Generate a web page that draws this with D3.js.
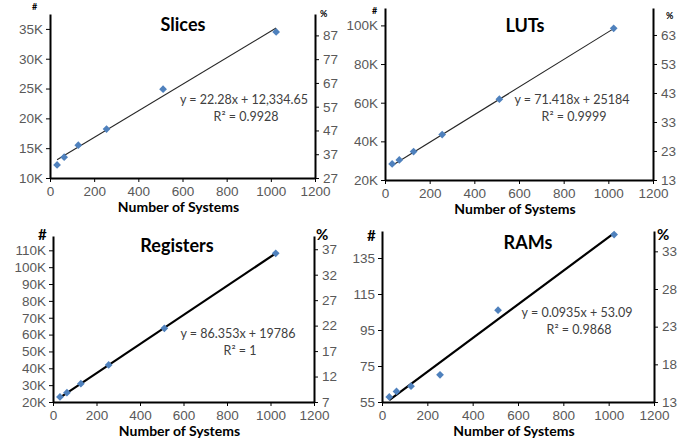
<!DOCTYPE html>
<meta charset="utf-8">
<script src="https://d3js.org/d3.v7.min.js"></script>
<style>
body { margin: 0; background: #fff; }
svg { font-family: Lato, "Open Sans", sans-serif; }
.tick text { fill: #595959; font-size: 13.5px; }
.axis path, .axis line { stroke: #000; }
.eq { fill: #404040; font-size: 12.5px; text-anchor: middle; }
.ttl { font-weight: bold; font-size: 18px; text-anchor: middle; }
.xlab { font-weight: bold; font-size: 14px; text-anchor: middle; }
.unit { font-weight: bold; }
</style>
<div id="chart"></div>
<script>
// number of systems (shared x values)
var systems = [32, 64, 128, 256, 512, 1024];
var xTicks = [0, 200, 400, 600, 800, 1000, 1200];

// measured resource counts
var slices = [12200, 13500, 15500, 18200, 24900, 34500];
var luts = [28300, 30400, 34700, 43500, 61800, 98500];
var registers = [23000, 25500, 30900, 42000, 63700, 108200];
var rams = [57.8, 60.9, 63.8, 70.1, 106, 148];

// left (#) and right (%) tick labels
var slicesTicks = [10000, 15000, 20000, 25000, 30000, 35000];
var slicesPct = [27, 37, 47, 57, 67, 77, 87];
var lutsTicks = [20000, 40000, 60000, 80000, 100000];
var lutsPct = [13, 23, 33, 43, 53, 63];
var regTicks = [20000, 30000, 40000, 50000, 60000, 70000, 80000, 90000, 100000, 110000];
var regPct = [7, 12, 17, 22, 27, 32, 37];
var ramTicks = [55, 75, 95, 115, 135];
var ramPct = [13, 18, 23, 28, 33];

// trend lines (slope, intercept, label, R²) as printed
var slicesFit = [22.28, 12334.65, "y = 22.28x + 12,334.65", "0.9928"];
var lutsFit = [71.418, 25184, "y = 71.418x + 25184", "0.9999"];
var regFit = [86.353, 19786, "y = 86.353x + 19786", "1"];
var ramFit = [0.0935, 53.09, "y = 0.0935x + 53.09", "0.9868"];

var panels = [
  {title: "Slices", vals: slices, lt: slicesTicks, rt: slicesPct, fit: slicesFit, k: true,
   l: 50, r: 315, t: 14, b: 178, yd: [10000, 37500], rd: [27, 96], lw: 1, us: 9,
   tx: 183, ty: 31, ex: 244, ey: 104, hx: 32, hy: 10, px: 320, py: 17},
  {title: "LUTs", vals: luts, lt: lutsTicks, rt: lutsPct, fit: lutsFit, k: true,
   l: 385, r: 653, t: 8, b: 180, yd: [20000, 109000], rd: [13, 72.3], lw: 1, us: 9,
   tx: 525, ty: 32, ex: 572, ey: 104, hx: 372, hy: 14, px: 666, py: 19},
  {title: "Registers", vals: registers, lt: regTicks, rt: regPct, fit: regFit, k: true,
   l: 53, r: 314, t: 236, b: 402, yd: [20000, 118500], rd: [7, 39.6], lw: 2, us: 15,
   tx: 177, ty: 252, ex: 238, ey: 338, hx: 38, hy: 240, px: 316, py: 240},
  {title: "RAMs", vals: rams, lt: ramTicks, rt: ramPct, fit: ramFit, k: false,
   l: 382, r: 654, t: 231, b: 402, yd: [55, 150], rd: [13, 35.7], lw: 2, us: 15,
   tx: 528, ty: 249, ex: 577, ey: 317, hx: 367, hy: 241, px: 657, py: 240}
];

var svg = d3.select("#chart").append("svg").attr("width", 700).attr("height", 442);
var diamond = d3.symbol().type(d3.symbolSquare).size(30);

panels.forEach(function(p) {
  var g = svg.append("g");
  var x = d3.scaleLinear().domain([0, 1200]).range([p.l, p.r]);
  var y = d3.scaleLinear().domain(p.yd).range([p.b, p.t]);
  var y2 = d3.scaleLinear().domain(p.rd).range([p.b, p.t]);
  var fmt = p.k ? function(d) { return (d / 1000) + "K"; } : d3.format("d");

  // trend line
  var fx = [systems[0], systems[systems.length - 1]];
  g.append("line")
    .attr("x1", x(fx[0])).attr("y1", y(p.fit[0] * fx[0] + p.fit[1]))
    .attr("x2", x(fx[1])).attr("y2", y(p.fit[0] * fx[1] + p.fit[1]))
    .attr("stroke", p.lw > 1 ? "#000" : "#262626").attr("stroke-width", p.lw * 1.1);

  g.append("g").attr("class", "axis").attr("transform", "translate(0," + p.b + ")")
    .call(d3.axisBottom(x).tickValues(xTicks).tickFormat(d3.format("d")).tickSize(4).tickSizeOuter(0).tickPadding(4))
    .call(function(a) { a.select(".domain").attr("stroke-width", 2); });
  g.append("g").attr("class", "axis").attr("transform", "translate(" + p.l + ",0)")
    .call(d3.axisLeft(y).tickValues(p.lt).tickFormat(fmt).tickSize(4).tickSizeOuter(0).tickPadding(3))
    .call(function(a) { a.select(".domain").attr("stroke-width", 2); });
  g.append("g").attr("class", "axis").attr("transform", "translate(" + p.r + ",0)")
    .call(d3.axisRight(y2).tickValues(p.rt).tickSize(4).tickSizeOuter(0).tickPadding(4))
    .call(function(a) { a.select(".domain").attr("stroke-width", 2); });

  g.selectAll("path.pt").data(p.vals).enter().append("path").attr("class", "pt")
    .attr("d", diamond)
    .attr("transform", function(d, i) { return "translate(" + x(systems[i]) + "," + y(d) + ") rotate(45)"; })
    .attr("fill", "#4F81BD");

  g.append("text").attr("class", "ttl").attr("x", p.tx).attr("y", p.ty).text(p.title);
  g.append("text").attr("class", "eq").attr("x", p.ex).attr("y", p.ey).text(p.fit[2]);
  g.append("text").attr("class", "eq").attr("x", p.ex + 2).attr("y", p.ey + 17).text("R\u00B2 = " + p.fit[3]);
  g.append("text").attr("class", "xlab").attr("x", (p.l + p.r) / 2 - 4).attr("y", p.b + 34).text("Number of Systems");
  g.append("text").attr("class", "unit").attr("font-size", p.us).attr("x", p.hx).attr("y", p.hy).text("#");
  g.append("text").attr("class", "unit").attr("font-size", p.us).attr("x", p.px).attr("y", p.py).text("%");
});
</script>
